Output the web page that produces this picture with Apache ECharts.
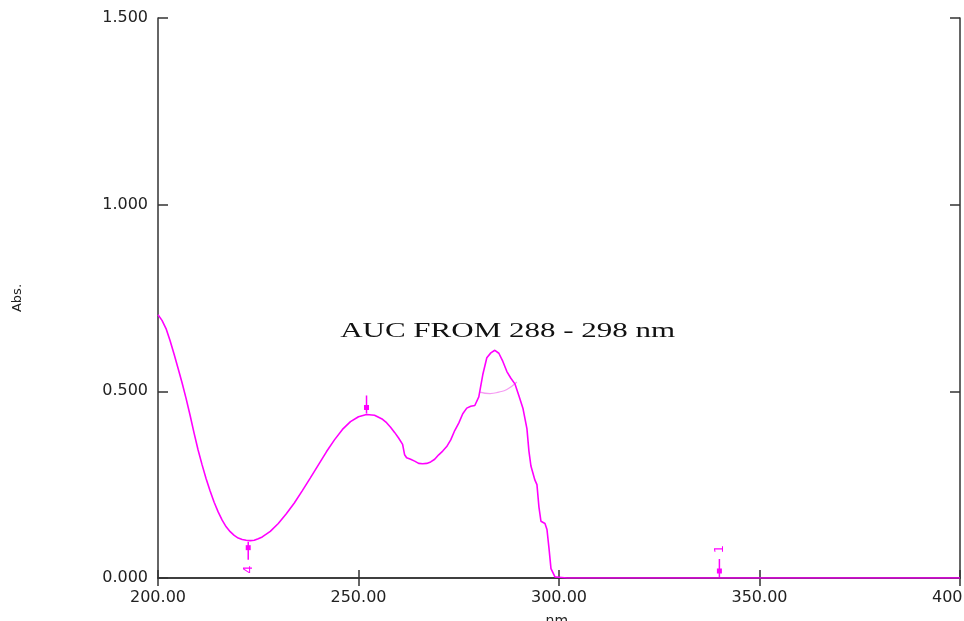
<!DOCTYPE html>
<html>
<head>
<meta charset="utf-8">
<script src="https://cdn.jsdelivr.net/npm/echarts@6/dist/echarts.min.js"></script>
<style>
  html, body { margin: 0; padding: 0; background: #fff; }
  #chartArea { width: 964px; height: 621px; }
</style>
</head>
<body>
<div id="chartArea"></div>
<script>
// spectrum
const wavelength = [200, 201, 202, 203, 204, 205, 206, 207, 208, 209, 210, 211, 212, 213, 214, 215, 216, 217, 218, 219,
  220, 221, 222, 223, 224, 225, 226, 228, 230, 232, 234, 236, 238, 240, 242, 244, 246, 248, 250, 252, 254, 256, 257, 258,
  259, 260, 261, 261.5, 262, 263, 264, 265, 266, 267, 268, 269, 270, 271, 272, 273, 274, 275, 276, 277, 278, 279, 280,
  281, 282, 283, 284, 285, 286, 287, 288, 289, 290, 291, 292, 292.5, 293, 294, 294.5, 295, 295.5, 296.5, 297, 297.5,
  298, 299, 300, 302, 400]
const absorbance = [0.705, 0.690, 0.668, 0.636, 0.600, 0.562, 0.523, 0.481, 0.436, 0.388, 0.343, 0.303, 0.266, 0.233,
  0.203, 0.177, 0.155, 0.137, 0.124, 0.114, 0.107, 0.103, 0.101, 0.100, 0.101, 0.105, 0.110, 0.125, 0.146, 0.172, 0.201,
  0.234, 0.268, 0.303, 0.338, 0.370, 0.398, 0.419, 0.432, 0.438, 0.436, 0.425, 0.416, 0.404, 0.390, 0.375, 0.358, 0.330,
  0.322, 0.318, 0.313, 0.307, 0.306, 0.307, 0.311, 0.318, 0.330, 0.340, 0.352, 0.370, 0.395, 0.415, 0.440, 0.455, 0.460,
  0.462, 0.485, 0.545, 0.590, 0.603, 0.610, 0.602, 0.580, 0.553, 0.535, 0.520, 0.488, 0.455, 0.400, 0.340, 0.300, 0.262,
  0.250, 0.190, 0.152, 0.146, 0.130, 0.080, 0.025, 0.003, 0.002, 0.000, 0.000]

// baseline arc of the AUC region
const arcWavelength = [280.3, 282.8, 285, 287, 289.5]
const arcAbsorbance = [0.498, 0.494, 0.498, 0.505, 0.525]

// peak / valley pick marks
const peakMarks = [[252, 0.438, '']]
const valleyMarks = [[222.5, 0.100, '4'], [340, 0.000, '1']]

const xTicks = {min: 200, max: 400, step: 50}
const yTicks = {min: 0, max: 1.5, step: 0.5}

const annotationText = 'AUC FROM 288 - 298 nm'
const annotationAt = [287.2, 0.659]

const pink = '#ff00ff'
const frame = '#333'

function zip(a, b) {
  return a.map((v, i) => [v, b[i]])
}

function markItem(up) {
  return function (params, api) {
    let p = api.coord([api.value(0), api.value(1)])
    let cs = params.coordSys
    let dir = up ? -1 : 1
    // no room below the frame -> draw above
    if (!up && p[1] + 20 > cs.y + cs.height) dir = -1
    let label = api.value(2)
    return {
      type: 'group',
      children: [
        {type: 'line', shape: {x1: p[0], y1: p[1] + dir * 1, x2: p[0], y2: p[1] + dir * 19},
          style: {stroke: pink, lineWidth: 1.5}},
        {type: 'rect', shape: {x: p[0] - 2.5, y: p[1] + dir * 7 - 2.5, width: 5, height: 5},
          style: {fill: pink}},
        {type: 'text', x: p[0], y: p[1] + dir * 29, rotation: Math.PI / 2,
          style: {text: label ? String(label) : '', fill: pink, font: '13px "DejaVu Sans"',
            align: 'center', verticalAlign: 'middle'}}
      ]
    }
  }
}

let axisText = {color: '#222', fontFamily: 'DejaVu Sans', fontSize: 16}

let option = {
  animation: false,
  backgroundColor: '#fff',
  grid: {left: 158, right: 4, top: 18, bottom: 43, containLabel: false, outerBoundsMode: 'none'},
  xAxis: [
    {
      type: 'value', position: 'bottom', min: xTicks.min, max: xTicks.max, interval: xTicks.step,
      name: 'nm.', nameLocation: 'middle', nameGap: 36,
      nameTextStyle: {color: '#222', fontFamily: 'DejaVu Sans', fontSize: 14},
      axisLine: {show: true, lineStyle: {color: frame, width: 1.5}},
      axisTick: {show: true, inside: true, length: 8, lineStyle: {color: frame, width: 1.5}},
      axisLabel: Object.assign({margin: 12, showMinLabel: true, showMaxLabel: true,
        formatter: v => v.toFixed(2)}, axisText),
      splitLine: {show: false}
    },
    {
      type: 'value', position: 'top', min: xTicks.min, max: xTicks.max, interval: xTicks.step,
      axisLine: {show: true, lineStyle: {color: frame, width: 1.5}},
      axisTick: {show: true, inside: true, length: 8, lineStyle: {color: frame, width: 1.5}},
      axisLabel: {show: false},
      splitLine: {show: false}
    }
  ],
  yAxis: [
    {
      type: 'value', position: 'left', min: yTicks.min, max: yTicks.max, interval: yTicks.step,
      name: 'Abs.', nameLocation: 'middle', nameGap: 134, nameRotate: 90,
      nameTextStyle: {color: '#222', fontFamily: 'DejaVu Sans', fontSize: 13},
      axisLine: {show: true, lineStyle: {color: frame, width: 1.5}},
      axisTick: {show: true, inside: true, length: 10, lineStyle: {color: frame, width: 1.5}},
      axisLabel: Object.assign({margin: 10, formatter: v => v.toFixed(3)}, axisText),
      splitLine: {show: false}
    },
    {
      type: 'value', position: 'right', min: yTicks.min, max: yTicks.max, interval: yTicks.step,
      axisLine: {show: true, lineStyle: {color: frame, width: 1.5}},
      axisTick: {show: true, inside: true, length: 10, lineStyle: {color: frame, width: 1.5}},
      axisLabel: {show: false},
      splitLine: {show: false}
    }
  ],
  series: [
    {
      name: 'spectrum', type: 'line', data: zip(wavelength, absorbance),
      showSymbol: false, lineStyle: {color: pink, width: 1.6}, z: 5
    },
    {
      name: 'auc base', type: 'line', data: zip(arcWavelength, arcAbsorbance), smooth: true,
      showSymbol: false, lineStyle: {color: '#f59af2', width: 1.2}, z: 4
    },
    {name: 'peaks', type: 'custom', renderItem: markItem(true), data: peakMarks, z: 6},
    {name: 'valleys', type: 'custom', renderItem: markItem(false), data: valleyMarks, z: 6}
  ]
}

let myChart = echarts.init(document.getElementById('chartArea'))
myChart.setOption(option)

// annotation text, placed from data coords
let at = myChart.convertToPixel({gridIndex: 0}, annotationAt)
myChart.setOption({
  graphic: [{
    type: 'text', x: at[0], y: at[1], scaleX: 1.55, z: 10,
    style: {text: annotationText, fill: '#111', font: '20px "Liberation Serif"',
      align: 'center', verticalAlign: 'middle'}
  }]
})
</script>
</body>
</html>
